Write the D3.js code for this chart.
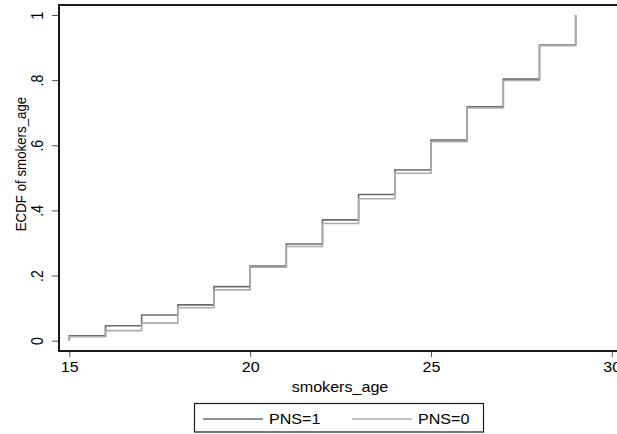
<!DOCTYPE html>
<html>
<head>
<meta charset="utf-8">
<script src="https://cdn.jsdelivr.net/npm/d3@7"></script>
<style>
  body { margin: 0; background: #fff; }
  svg { display: block; font-family: "Liberation Sans", Arial, sans-serif; }
</style>
</head>
<body>
<svg id="chart" width="617" height="434"></svg>
<script>
// ages and cumulative shares
var ages = [15, 16, 17, 18, 19, 20, 21, 22, 23, 24, 25, 26, 27, 28, 29];
var ecdfPns1 = [0.015, 0.046, 0.079, 0.110, 0.166, 0.229, 0.297, 0.371, 0.449, 0.524, 0.616, 0.718, 0.803, 0.908, 1.0];
var ecdfPns0 = [0.012, 0.031, 0.054, 0.101, 0.156, 0.226, 0.289, 0.360, 0.436, 0.514, 0.611, 0.715, 0.799, 0.906, 1.0];
var startLevel = 0;

var xTicks = [15, 20, 25, 30];
var yTicks = [0, 0.2, 0.4, 0.6, 0.8, 1];
var seriesNames = ["PNS=1", "PNS=0"];
var seriesColors = ["#6b6b6b", "#ababab"];

var SX = 1.15; // the picture is stretched sideways, text too
var fs = 14;

var svg = d3.select("#chart");

var x = d3.scaleLinear().domain([15, 30]).range([69.3, 611.8]);
var y = d3.scaleLinear().domain([0, 1]).range([340.7, 15]);

svg.append("rect").attr("width", 617).attr("height", 434).attr("fill", "#fff");

function points(vals){
  let pts = [[ages[0], startLevel]];
  for (let i = 0; i < ages.length; i++){
    pts.push([ages[i], vals[i]]);
  }
  return pts;
}

var line = d3.line()
  .x(d => x(d[0]))
  .y(d => y(d[1]))
  .curve(d3.curveStepAfter);

var lines = [points(ecdfPns1), points(ecdfPns0)];
lines.forEach(function(pts, i){
  svg.append("path")
    .attr("d", line(pts))
    .attr("fill", "none")
    .attr("stroke", seriesColors[i])
    .attr("stroke-width", 1.6);
});

// plot frame
svg.append("rect")
  .attr("x", 59).attr("y", 5)
  .attr("width", 640).attr("height", 346)
  .attr("fill", "none")
  .attr("stroke", "#1a1a1a")
  .attr("stroke-width", 2);

var xAxis = svg.append("g")
  .attr("transform", "translate(0,352)")
  .call(d3.axisBottom(x).tickValues(xTicks).tickSize(5).tickSizeOuter(0).tickFormat(d3.format("d")));
xAxis.select(".domain").remove();
xAxis.selectAll(".tick line").attr("stroke", "#555");
xAxis.selectAll(".tick text")
  .attr("y", 0).attr("dy", 0)
  .attr("transform", "translate(0,20) scale(" + SX + ",1)")
  .attr("fill", "#000")
  .style("font-size", fs + "px");

var yAxis = svg.append("g")
  .attr("transform", "translate(58,0)")
  .call(d3.axisLeft(y).tickValues(yTicks).tickSize(6).tickSizeOuter(0)
    .tickFormat(d => d == 0 ? "0" : d == 1 ? "1" : String(d).replace(/^0/, "")));
yAxis.select(".domain").remove();
yAxis.selectAll(".tick line").attr("stroke", "#555");
yAxis.selectAll(".tick text")
  .attr("x", 0).attr("dy", 0).attr("y", 0)
  .attr("text-anchor", "middle")
  .attr("transform", "translate(-15,0) scale(" + SX + ",1) rotate(-90)")
  .attr("fill", "#000")
  .style("font-size", fs + "px");

svg.append("text")
  .attr("transform", "translate(340,392) scale(" + SX + ",1)")
  .attr("text-anchor", "middle")
  .style("font-size", fs + "px")
  .attr("fill", "#000")
  .text("smokers_age");

svg.append("text")
  .attr("transform", "translate(26,164) scale(" + SX + ",1) rotate(-90)")
  .attr("text-anchor", "middle")
  .style("font-size", "13.3px")
  .attr("fill", "#000")
  .text("ECDF of smokers_age");

// legend
var legend = svg.append("g");
legend.append("rect")
  .attr("x", 194.5).attr("y", 403.5)
  .attr("width", 289).attr("height", 28.5)
  .attr("fill", "#fff")
  .attr("stroke", "#1a1a1a")
  .attr("stroke-width", 1.2);

var legX = [203, 352];
seriesNames.forEach(function(name, i){
  legend.append("line")
    .attr("x1", legX[i]).attr("x2", legX[i] + 60)
    .attr("y1", 419).attr("y2", 419)
    .attr("stroke", seriesColors[i])
    .attr("stroke-width", 1.6);
  legend.append("text")
    .attr("transform", "translate(" + (legX[i] + 66) + ",424) scale(" + SX + ",1)")
    .style("font-size", fs + "px")
    .attr("fill", "#000")
    .text(name);
});
</script>
</body>
</html>
